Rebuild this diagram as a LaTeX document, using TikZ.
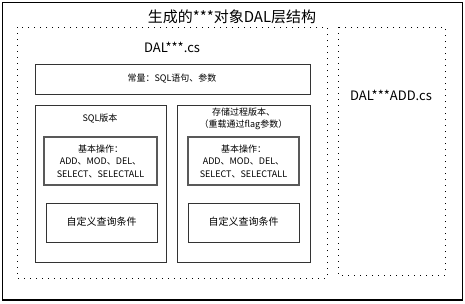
\documentclass[tikz,border=0pt]{standalone}
\usepackage{fontspec}
\setmainfont{Noto Sans CJK SC}
\begin{document}
\begin{tikzpicture}[x=1pt,y=-1pt,
  frame/.style={draw=black,line width=1pt},
  dotbox/.style={draw=black,line width=1pt,dash pattern=on 1pt off 5pt},
  verbox/.style={draw=black!80,line width=1pt},
  opbox/.style={draw=black!65,line width=1.5pt},
  txt/.style={inner sep=0pt,font=\fontsize{9}{11}\selectfont,align=center}]
\useasboundingbox (0,0) rectangle (465,303);
\draw[frame] (2,2) rectangle (462,300);
\draw[line width=1.5pt] (2,300) -- (462,300);
\node[inner sep=0pt,font=\fontsize{15}{17}\selectfont] (title) at (232,17) {生成的***对象DAL层结构};
\draw[dotbox] (17,27) rectangle (327,278);
\draw[dotbox] (338,27) rectangle (445,275);
\node[inner sep=0pt,font=\fontsize{13}{15}\selectfont] (dalcs) at (172,47) {DAL***.cs};
\node[inner sep=0pt,font=\fontsize{13}{15}\selectfont] (daladd) at (391,95) {DAL***ADD.cs};
\draw[verbox] (35,64) rectangle (310,94);
\node[txt] (const) at (172,79) {常量：SQL语句、参数};
\draw[verbox] (35,105) rectangle (166,262);
\node[txt] (sqlv) at (100,119) {SQL版本};
\draw[opbox] (44,137) rectangle (157,185);
\node[txt,font=\fontsize{9}{12.5}\selectfont] (ops1) at (100.5,161) {基本操作：\\ADD、MOD、DEL、\\SELECT、SELECTALL};
\draw[verbox] (46,203) rectangle (157,242);
\node[txt,font=\fontsize{10}{12}\selectfont] (q1) at (101.5,222) {自定义查询条件};
\draw[verbox] (177,105) rectangle (310,262);
\node[txt,font=\fontsize{9}{12}\selectfont] (spv) at (243.5,119) {存储过程版本、\\（重载通过flag参数）};
\draw[opbox] (188,137) rectangle (299,185);
\node[txt,font=\fontsize{9}{12.5}\selectfont] (ops2) at (243.5,161) {基本操作：\\ADD、MOD、DEL、\\SELECT、SELECTALL};
\draw[verbox] (188,203) rectangle (299,242);
\node[txt,font=\fontsize{10}{12}\selectfont] (q2) at (243.5,222) {自定义查询条件};
\end{tikzpicture}
\end{document}
